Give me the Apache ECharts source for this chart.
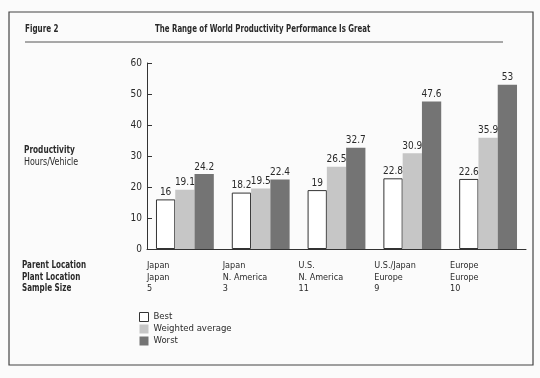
<!DOCTYPE html>
<html><head><meta charset="utf-8">
<script src="https://cdn.jsdelivr.net/npm/echarts@6/dist/echarts.min.js"></script>
<style>html,body{margin:0;padding:0;background:#fbfbfb}#c{width:540px;height:378px}</style>
</head><body><div id="c"></div>
<script>
const categories = ['Japan\nJapan\n5', 'Japan\nN. America\n3', 'U.S.\nN. America\n11', 'U.S./Japan\nEurope\n9', 'Europe\nEurope\n10'];
const seriesNames = ['Best', 'Weighted average', 'Worst'];
const best = [16, 18.2, 19, 22.8, 22.6];
const weighted = [19.1, 19.5, 26.5, 30.9, 35.9];
const worst = [24.2, 22.4, 32.7, 47.6, 53];
const yTicks = [0, 10, 20, 30, 40, 50, 60];

const F = "'Liberation Sans Narrow','DejaVu Sans Condensed','Arial Narrow','Liberation Sans',sans-serif";
const TXT = '#2a2a2a';
const lbl = {show: true, position: 'top', distance: 2, fontFamily: F, fontSize: 10, color: TXT};

function txt(x, y, text, bold, sx, lh) {
  return {type: 'text', x: x, y: y, scaleX: sx, silent: true,
    style: {text: text, font: (bold ? 'bold ' : '') + '10px ' + F, fill: TXT, verticalAlign: 'top', lineHeight: lh || 11.5}};
}

const chart = echarts.init(document.getElementById('c'), null, {renderer: 'canvas'});
chart.setOption({
  backgroundColor: '#fbfbfb',
  animation: false,
  textStyle: {fontFamily: F, color: TXT},
  grid: {left: 147, right: 14, top: 63, bottom: 129},
  legend: {
    orient: 'vertical', left: 134, top: 307, itemWidth: 9, itemHeight: 9, itemGap: 2,
    icon: 'rect', data: seriesNames, itemStyle: {borderWidth: 1},
    textStyle: {fontFamily: F, fontSize: 9.5, color: TXT, padding: [0, 0, 0, 0]}
  },
  xAxis: {
    type: 'category', data: categories,
    axisLine: {lineStyle: {color: '#333', width: 1}},
    axisTick: {show: false},
    axisLabel: {align: 'left', padding: [0, 0, 0, -38], margin: 11, lineHeight: 11.5,
      fontFamily: F, fontSize: 9, color: TXT, verticalAlign: 'top'}
  },
  yAxis: {
    type: 'value', min: yTicks[0], max: yTicks[yTicks.length - 1], interval: 10,
    splitLine: {show: false},
    axisLine: {show: true, lineStyle: {color: '#333', width: 1}},
    axisTick: {show: true, inside: true, length: 5, lineStyle: {color: '#333'}},
    axisLabel: {margin: 5, fontFamily: F, fontSize: 10, color: TXT}
  },
  series: [
    {name: seriesNames[0], type: 'bar', data: best, barGap: '0%', barCategoryGap: '23.7%',
      itemStyle: {color: '#ffffff', borderColor: '#333', borderWidth: 1}, label: lbl},
    {name: seriesNames[1], type: 'bar', data: weighted,
      itemStyle: {color: '#c6c6c6'}, label: lbl},
    {name: seriesNames[2], type: 'bar', data: worst,
      itemStyle: {color: '#747474'}, label: lbl}
  ],
  graphic: [
    {type: 'rect', shape: {x: 9, y: 12, width: 524, height: 353}, style: {fill: 'none', stroke: '#444', lineWidth: 1.2}, silent: true},
    {type: 'line', shape: {x1: 25, y1: 42, x2: 503, y2: 42}, style: {stroke: '#555', lineWidth: 1}, silent: true},
    txt(25, 24, 'Figure 2', true, 0.8),
    txt(155, 24, 'The Range of World Productivity Performance Is Great', true, 0.78),
    txt(24, 145, 'Productivity', true, 0.82),
    txt(24, 157, 'Hours/Vehicle', false, 0.88),
    txt(22, 260, 'Parent Location\nPlant Location\nSample Size', true, 0.8)
  ]
});
</script></body></html>
